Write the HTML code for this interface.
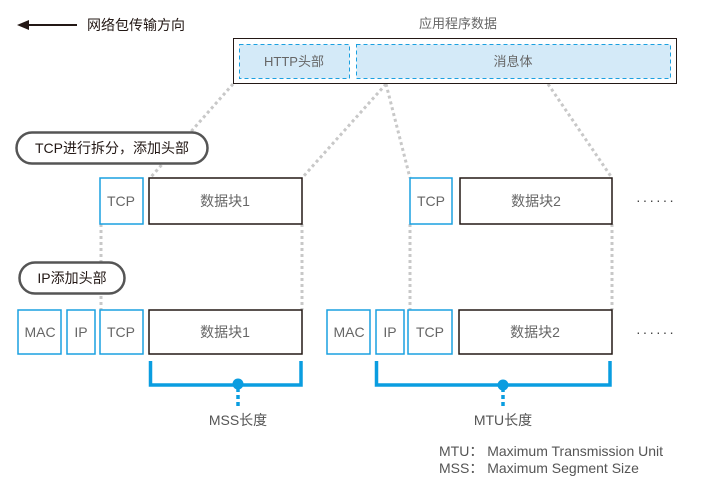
<!DOCTYPE html>
<html><head><meta charset="utf-8"><style>body{margin:0;background:#fff}svg{display:block}text{font-family:"Liberation Sans","Noto Sans CJK SC",sans-serif}</style></head><body>
<svg width="708" height="490" viewBox="0 0 708 490">
<g stroke="#c8c8c8" stroke-width="3" stroke-dasharray="3,3" fill="none">
<line x1="233" y1="84" x2="150" y2="178"/>
<line x1="386" y1="84" x2="302" y2="178"/>
<line x1="386" y1="84" x2="410" y2="178"/>
<line x1="548" y1="84" x2="612" y2="178"/>
<line x1="101" y1="224" x2="101" y2="310"/>
<line x1="302" y1="224" x2="302" y2="310"/>
<line x1="410" y1="224" x2="410" y2="310"/>
<line x1="612" y1="224" x2="612" y2="310"/>
</g>
<line x1="28" y1="25" x2="77" y2="25" stroke="#231815" stroke-width="2"/>
<polygon points="17,25 29,20 29,30" fill="#231815"/>
<text x="87" y="30" font-size="14" fill="#231815">网络包传输方向</text>
<text x="458" y="28" font-size="13" fill="#666" text-anchor="middle">应用程序数据</text>
<rect x="233.5" y="38.5" width="443" height="45" fill="#fff" stroke="#231815"/>
<rect x="239.5" y="44.5" width="110" height="34" fill="#d4eaf8" stroke="#1aa0e0" stroke-dasharray="4,3"/>
<rect x="356.5" y="44.5" width="314" height="34" fill="#d4eaf8" stroke="#1aa0e0" stroke-dasharray="4,3"/>
<text x="294" y="66" font-size="13" fill="#666" text-anchor="middle">HTTP头部</text>
<text x="513" y="66" font-size="13" fill="#666" text-anchor="middle">消息体</text>
<rect x="16.5" y="132.5" width="191" height="31" rx="15.5" fill="#fff" stroke="#555" stroke-width="2.5"/>
<text x="112" y="153" font-size="14" fill="#231815" text-anchor="middle">TCP进行拆分，添加头部</text>
<rect x="19.5" y="262.5" width="105" height="31" rx="15.5" fill="#fff" stroke="#555" stroke-width="2.5"/>
<text x="72" y="283" font-size="14" fill="#231815" text-anchor="middle">IP添加头部</text>
<g fill="#fff" stroke-width="1.5">
<rect x="100" y="178" width="43" height="46" stroke="#1aa0e0"/>
<rect x="149" y="178" width="153" height="46" stroke="#231815"/>
<rect x="410" y="178" width="42" height="46" stroke="#1aa0e0"/>
<rect x="460" y="178" width="152" height="46" stroke="#231815"/>
<rect x="18" y="310" width="43" height="44" stroke="#1aa0e0"/>
<rect x="67" y="310" width="28" height="44" stroke="#1aa0e0"/>
<rect x="100" y="310" width="43" height="44" stroke="#1aa0e0"/>
<rect x="149" y="310" width="153" height="44" stroke="#231815"/>
<rect x="327" y="310" width="43" height="44" stroke="#1aa0e0"/>
<rect x="376" y="310" width="28" height="44" stroke="#1aa0e0"/>
<rect x="408" y="310" width="44" height="44" stroke="#1aa0e0"/>
<rect x="459" y="310" width="153" height="44" stroke="#231815"/>
</g>
<g font-size="14" fill="#666" text-anchor="middle">
<text x="121" y="206">TCP</text><text x="225" y="206">数据块1</text>
<text x="431" y="206">TCP</text><text x="536" y="206">数据块2</text>
<text x="40" y="337">MAC</text><text x="81" y="337">IP</text><text x="121" y="337">TCP</text><text x="225" y="337">数据块1</text>
<text x="349" y="337">MAC</text><text x="390" y="337">IP</text><text x="430" y="337">TCP</text><text x="535" y="337">数据块2</text>
</g>
<text x="636" y="205" font-size="14" fill="#444" letter-spacing="2">······</text>
<text x="636" y="337" font-size="14" fill="#444" letter-spacing="2">······</text>
<g stroke="#0a9de0" stroke-width="3.5" fill="none">
<polyline points="150.5,361 150.5,385 301,385 301,361"/>
<polyline points="376.5,361 376.5,385 610,385 610,361"/>
<line x1="238" y1="388" x2="238" y2="408" stroke-dasharray="4,3"/>
<line x1="503" y1="388" x2="503" y2="408" stroke-dasharray="4,3"/>
</g>
<circle cx="238" cy="384" r="5.5" fill="#0a9de0"/>
<circle cx="503" cy="385" r="5.5" fill="#0a9de0"/>
<g font-size="14" fill="#555" text-anchor="middle">
<text x="238" y="425">MSS长度</text><text x="503" y="425">MTU长度</text>
</g>
<g font-size="14" fill="#555">
<text x="439" y="456">MTU：  Maximum Transmission Unit</text>
<text x="439" y="473">MSS：  Maximum Segment Size</text>
</g>
</svg>
</body></html>
